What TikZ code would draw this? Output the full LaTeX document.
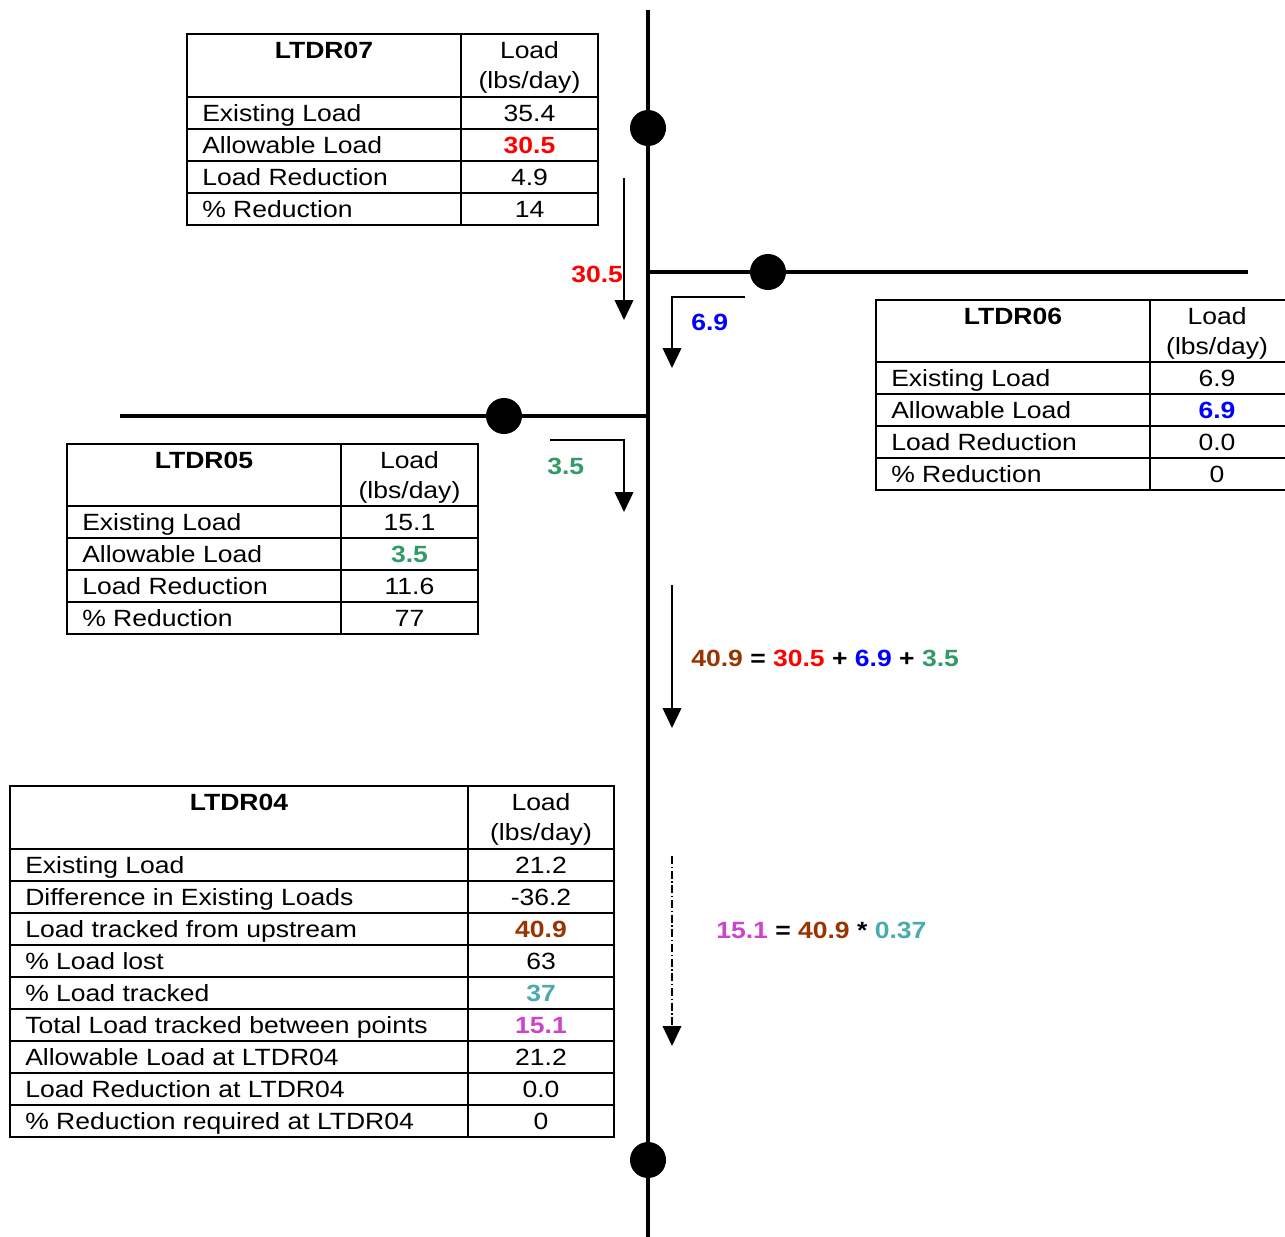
\documentclass[tikz,border=0pt]{standalone}
\usepackage{fontspec}
\setmainfont{Liberation Sans}[FakeStretch=1.13]
\usetikzlibrary{arrows.meta}

\definecolor{redload}{RGB}{255,0,0}
\definecolor{blueload}{RGB}{0,0,255}
\definecolor{greenload}{RGB}{51,153,102}
\definecolor{brownload}{RGB}{153,51,0}
\definecolor{tealload}{RGB}{75,170,170}
\definecolor{pinkload}{RGB}{204,68,204}
\newcommand{\tsize}{\fontsize{17.6}{23}\selectfont}

\begin{document}
\begin{tikzpicture}[x=0.75pt, y=-0.75pt,
	every node/.style={inner sep=0pt, font=\tsize},
	bold/.style={font=\tsize\bfseries},
	grid/.style={draw=black, line width=1.5pt},
	river/.style={line width=3pt},
	station/.style={circle, fill=black, minimum size=27pt},
	flow/.style={line width=1.3pt, -{Triangle[length=15pt, width=14pt]}},
	track/.style={flow, line width=1pt, dash pattern=on 6pt off 2pt on 1pt off 2pt}]

	\useasboundingbox (0,0) rectangle (1285,1236);

	%river coords
	\coordinate (top) at (648,10);
	\coordinate (bottom) at (648,1240);
	\coordinate (east) at (1248,272);
	\coordinate (westj) at (648,272);
	\coordinate (west) at (120,416);
	\coordinate (eastj) at (648,416);

	%river lines
	\draw[river] (top) -- (bottom);
	\draw[river] (westj) -- (east);
	\draw[river] (west) -- (eastj);

	%stations
	\node[station] (s07) at (648,128) {};
	\node[station] (s06) at (768,272) {};
	\node[station] (s05) at (504,416) {};
	\node[station] (s04) at (648,1160) {};

	%load arrows
	\coordinate (a07s) at (624,178);
	\coordinate (a07e) at (624,320);
	\draw[flow] (a07s) -- (a07e);
	\node[bold, text=redload, anchor=west] (l07) at (571,274) {30.5};

	\coordinate (a06s) at (745,297);
	\coordinate (a06e) at (672,368);
	\draw[flow] (a06s) -| (a06e);
	\node[bold, text=blueload, anchor=west] (l06) at (691,322) {6.9};

	\coordinate (a05s) at (550,440);
	\coordinate (a05e) at (624,512);
	\draw[flow] (a05s) -| (a05e);
	\node[bold, text=greenload, anchor=west] (l05) at (547,466) {3.5};

	\coordinate (sums) at (672,585);
	\coordinate (sume) at (672,728);
	\draw[flow] (sums) -- (sume);
	\node[bold, anchor=west] (sum) at (691,658) {\textcolor{brownload}{40.9} = \textcolor{redload}{30.5} + \textcolor{blueload}{6.9} + \textcolor{greenload}{3.5}};

	\coordinate (trks) at (672,856);
	\coordinate (trke) at (672,1046);
	\draw[track] (trks) -- (trke);
	\node[bold, anchor=west] (trk) at (716,930) {\textcolor{pinkload}{15.1} = \textcolor{brownload}{40.9} * \textcolor{tealload}{0.37}};

	%LTDR07 table
	\draw[grid] (187,34) rectangle (598,225);
	\draw[grid] (461,34) -- (461,225);
	\foreach \y in {97,129,161,193} \draw[grid] (187,\y) -- (598,\y);
	\node[bold, anchor=base] (h07) at (324,58) {LTDR07};
	\node[anchor=base] (u07a) at (529.5,58) {Load};
	\node[anchor=base] (u07b) at (529.5,88) {(lbs/day)};
	\node[anchor=base west] (r07a) at (202,121.5) {Existing Load};
	\node[anchor=base west] (r07b) at (202,153.5) {Allowable Load};
	\node[anchor=base west] (r07c) at (202,185.5) {Load Reduction};
	\node[anchor=base west] (r07d) at (202,217.5) {\% Reduction};
	\node[anchor=base] (v07a) at (529.5,121.5) {35.4};
	\node[bold, text=redload, anchor=base] (v07b) at (529.5,153.5) {30.5};
	\node[anchor=base] (v07c) at (529.5,185.5) {4.9};
	\node[anchor=base] (v07d) at (529.5,217.5) {14};

	%LTDR06 table
	\draw[grid] (876,300) rectangle (1287,490);
	\draw[grid] (1150,300) -- (1150,490);
	\foreach \y in {362,394,426,458} \draw[grid] (876,\y) -- (1287,\y);
	\node[bold, anchor=base] (h06) at (1013,324) {LTDR06};
	\node[anchor=base] (u06a) at (1217,324) {Load};
	\node[anchor=base] (u06b) at (1217,354) {(lbs/day)};
	\node[anchor=base west] (r06a) at (891,386.5) {Existing Load};
	\node[anchor=base west] (r06b) at (891,418.5) {Allowable Load};
	\node[anchor=base west] (r06c) at (891,450.5) {Load Reduction};
	\node[anchor=base west] (r06d) at (891,482.5) {\% Reduction};
	\node[anchor=base] (v06a) at (1217,386.5) {6.9};
	\node[bold, text=blueload, anchor=base] (v06b) at (1217,418.5) {6.9};
	\node[anchor=base] (v06c) at (1217,450.5) {0.0};
	\node[anchor=base] (v06d) at (1217,482.5) {0};

	%LTDR05 table
	\draw[grid] (67,444) rectangle (478,634);
	\draw[grid] (341,444) -- (341,634);
	\foreach \y in {506,538,570,602} \draw[grid] (67,\y) -- (478,\y);
	\node[bold, anchor=base] (h05) at (204,468) {LTDR05};
	\node[anchor=base] (u05a) at (409.5,468) {Load};
	\node[anchor=base] (u05b) at (409.5,498) {(lbs/day)};
	\node[anchor=base west] (r05a) at (82,530.5) {Existing Load};
	\node[anchor=base west] (r05b) at (82,562.5) {Allowable Load};
	\node[anchor=base west] (r05c) at (82,594.5) {Load Reduction};
	\node[anchor=base west] (r05d) at (82,626.5) {\% Reduction};
	\node[anchor=base] (v05a) at (409.5,530.5) {15.1};
	\node[bold, text=greenload, anchor=base] (v05b) at (409.5,562.5) {3.5};
	\node[anchor=base] (v05c) at (409.5,594.5) {11.6};
	\node[anchor=base] (v05d) at (409.5,626.5) {77};

	%LTDR04 table
	\draw[grid] (10,786) rectangle (614,1137);
	\draw[grid] (468,786) -- (468,1137);
	\foreach \y in {849,881,913,945,977,1009,1041,1073,1105} \draw[grid] (10,\y) -- (614,\y);
	\node[bold, anchor=base] (h04) at (239,810) {LTDR04};
	\node[anchor=base] (u04a) at (541,810) {Load};
	\node[anchor=base] (u04b) at (541,840) {(lbs/day)};
	\node[anchor=base west] (r04a) at (25,873.5) {Existing Load};
	\node[anchor=base west] (r04b) at (25,905.5) {Difference in Existing Loads};
	\node[anchor=base west] (r04c) at (25,937.5) {Load tracked from upstream};
	\node[anchor=base west] (r04d) at (25,969.5) {\% Load lost};
	\node[anchor=base west] (r04e) at (25,1001.5) {\% Load tracked};
	\node[anchor=base west] (r04f) at (25,1033.5) {Total Load tracked between points};
	\node[anchor=base west] (r04g) at (25,1065.5) {Allowable Load at LTDR04};
	\node[anchor=base west] (r04h) at (25,1097.5) {Load Reduction at LTDR04};
	\node[anchor=base west] (r04i) at (25,1129.5) {\% Reduction required at LTDR04};
	\node[anchor=base] (v04a) at (541,873.5) {21.2};
	\node[anchor=base] (v04b) at (541,905.5) {-36.2};
	\node[bold, text=brownload, anchor=base] (v04c) at (541,937.5) {40.9};
	\node[anchor=base] (v04d) at (541,969.5) {63};
	\node[bold, text=tealload, anchor=base] (v04e) at (541,1001.5) {37};
	\node[bold, text=pinkload, anchor=base] (v04f) at (541,1033.5) {15.1};
	\node[anchor=base] (v04g) at (541,1065.5) {21.2};
	\node[anchor=base] (v04h) at (541,1097.5) {0.0};
	\node[anchor=base] (v04i) at (541,1129.5) {0};

\end{tikzpicture}
\end{document}
